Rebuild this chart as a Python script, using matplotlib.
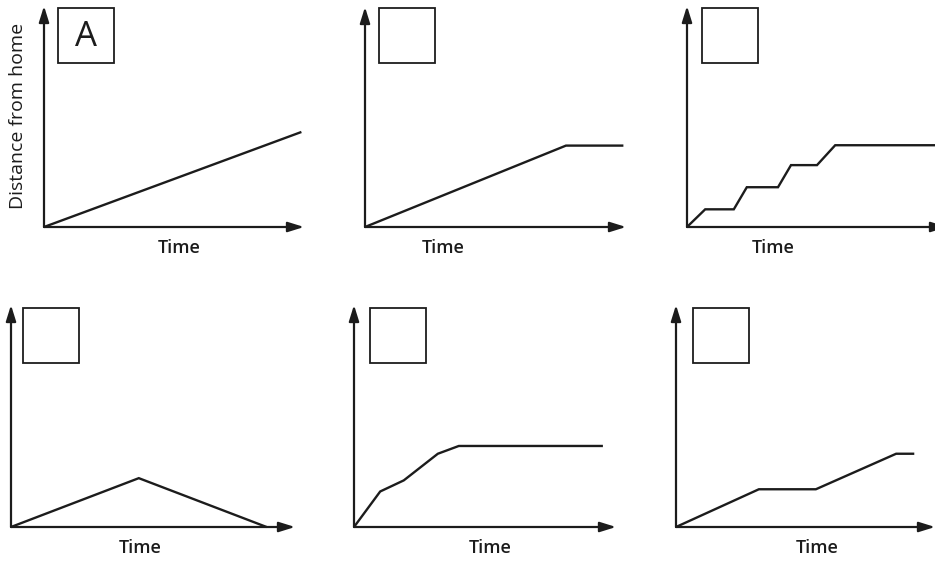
import matplotlib
matplotlib.use("Agg")
import matplotlib.pyplot as plt
from matplotlib.patches import Rectangle

# Distance-time journeys (time and distance on a 0-10 scale up to the arrow tips)
time_a = [0.0, 9.9]
dist_a = [0.0, 4.3]

time_b = [0.0, 7.7, 9.9]
dist_b = [0.0, 3.7, 3.7]

time_c = [0.0, 0.7, 1.8, 2.3, 3.5, 4.0, 5.0, 5.7, 9.9]
dist_c = [0.0, 0.8, 0.8, 1.8, 1.8, 2.8, 2.8, 3.7, 3.7]

time_d = [0.0, 4.5, 9.0]
dist_d = [0.0, 2.2, 0.0]

time_e = [0.0, 1.0, 1.9, 3.2, 4.0, 9.5]
dist_e = [0.0, 1.6, 2.1, 3.3, 3.65, 3.65]

time_f = [0.0, 3.2, 5.4, 8.5, 9.2]
dist_f = [0.0, 1.7, 1.7, 3.3, 3.3]

panel_labels = ["A", "", "", "", "", ""]
x_title = "Time"
y_title = "Distance from home"

W, H = 935, 565
fig = plt.figure(figsize=(W / 100, H / 100), dpi=100)
fig.patch.set_facecolor("white")

FONT = ["Open Sans", "DejaVu Sans"]
INK = "#1c1c1c"

# panel layout in pixels: origin x, origin y, x-axis length, y-axis length,
# box left, box top, x-title centre (fraction of x-axis)
panels = [
    dict(t=time_a, d=dist_a, ox=44, oy=227, w=260, h=221, bx=58, by=8, xt=0.52),
    dict(t=time_b, d=dist_b, ox=365, oy=227, w=261, h=220, bx=379, by=8, xt=0.30),
    dict(t=time_c, d=dist_c, ox=687, oy=227, w=260, h=221, bx=702, by=8, xt=0.33),
    dict(t=time_d, d=dist_d, ox=11, oy=527, w=284, h=222, bx=23, by=308, xt=0.455),
    dict(t=time_e, d=dist_e, ox=354, oy=527, w=262, h=222, bx=370, by=308, xt=0.52),
    dict(t=time_f, d=dist_f, ox=676, oy=527, w=259, h=222, bx=693, by=308, xt=0.545),
]

for i, p in enumerate(panels):
    ax = fig.add_axes([p["ox"] / W, (H - p["oy"]) / H, p["w"] / W, p["h"] / H])
    ax.set_xlim(0, 10)
    ax.set_ylim(0, 10)
    ax.axis("off")

    arrow = dict(arrowstyle="-|>,head_length=0.8,head_width=0.25",
                 lw=1.6, color=INK, shrinkA=0, shrinkB=0, mutation_scale=12)
    ax.annotate("", xy=(1, 0), xytext=(0, 0), xycoords="axes fraction",
                arrowprops=arrow, annotation_clip=False)
    ax.annotate("", xy=(0, 1), xytext=(0, 0), xycoords="axes fraction",
                arrowprops=arrow, annotation_clip=False)

    ax.plot(p["t"], p["d"], color=INK, lw=1.7, solid_joinstyle="miter",
            solid_capstyle="butt", clip_on=False)

    # answer box
    bw, bh = 56, 55
    rect = Rectangle((p["bx"] / W, 1 - (p["by"] + bh) / H), bw / W, bh / H,
                     transform=fig.transFigure, fill=False, lw=1.3,
                     edgecolor=INK)
    fig.patches.append(rect)
    if panel_labels[i]:
        fig.text((p["bx"] + bw / 2) / W, 1 - (p["by"] + bh / 2 + 1) / H,
                 panel_labels[i], ha="center", va="center", fontsize=25,
                 family=FONT, color=INK)

    fig.text((p["ox"] + p["xt"] * p["w"]) / W, 1 - (p["oy"] + 21) / H,
             x_title, ha="center", va="center", fontsize=13,
             fontweight="semibold", family=FONT, color=INK)

fig.text(18 / W, 1 - 116 / H, y_title, rotation=90, ha="center", va="center",
         fontsize=14, family=FONT, color=INK)

fig.savefig("out.png", dpi=100, facecolor="white")
